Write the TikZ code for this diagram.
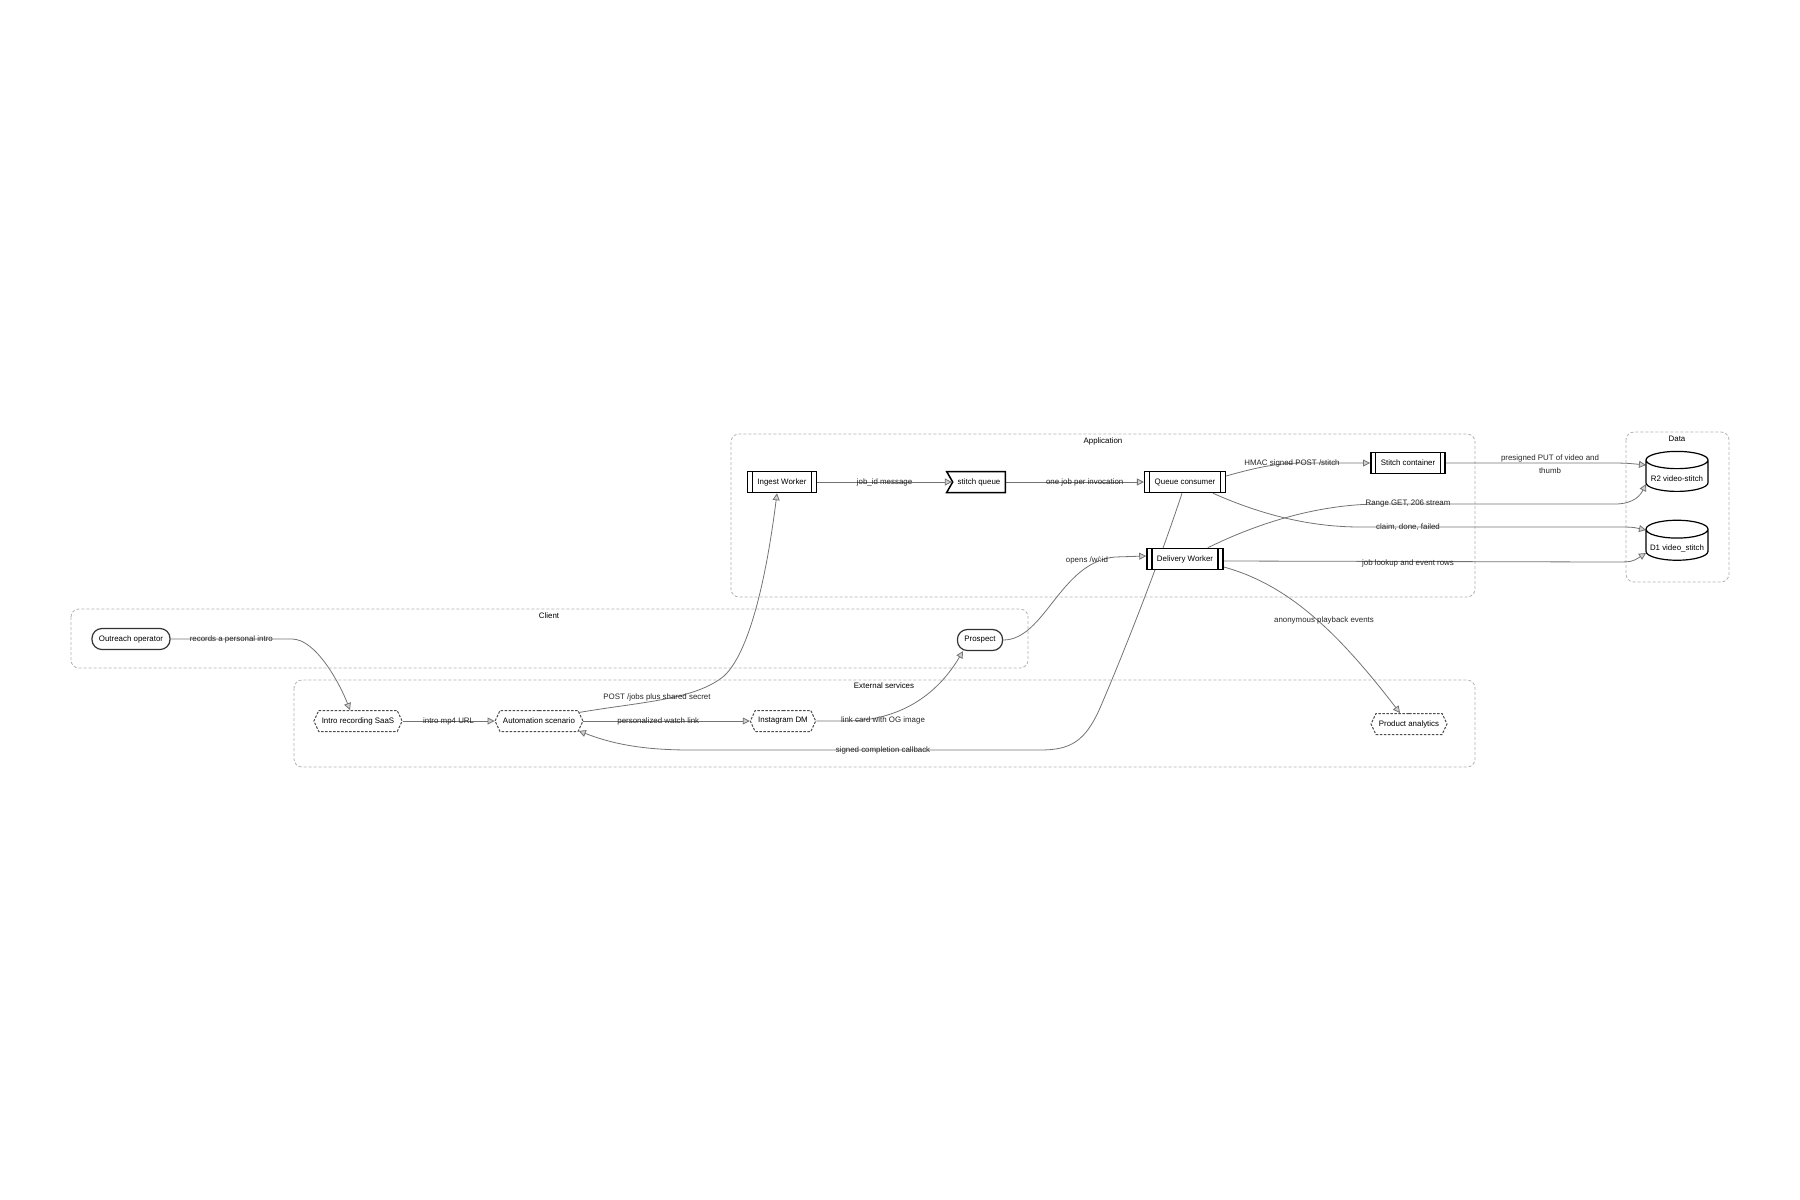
\documentclass[tikz,border=0pt]{standalone}
\usepackage{fontspec}
\setmainfont{Liberation Sans}
\usepackage{tikz}
\usetikzlibrary{arrows.meta,shapes.geometric,shapes.symbols,backgrounds}

\begin{document}
\begin{tikzpicture}[x=1pt,y=-1pt,
	every node/.style={font=\fontsize{7.9}{12.5}\selectfont, inner sep=0pt},
	group/.style={draw=black!30, dash pattern=on 3pt off 2pt, line width=0.8pt, rounded corners=8pt},
	proc/.style={draw=black, line width=1.5pt, fill=white, minimum height=21pt, inner xsep=10pt,
		path picture={
			\draw[line width=1.2pt] ([xshift=5pt]path picture bounding box.north west) -- ([xshift=5pt]path picture bounding box.south west);
			\draw[line width=1.2pt] ([xshift=-5pt]path picture bounding box.north east) -- ([xshift=-5pt]path picture bounding box.south east);}},
	queuebox/.style={signal, signal from=west, signal to=nowhere, signal pointer angle=120, draw=black, line width=1.5pt, fill=white, minimum height=21pt, inner xsep=5pt},
	actor/.style={draw=black!80, line width=1.2pt, fill=white, rounded corners=10pt, minimum height=21pt, inner xsep=7pt},
	extbox/.style={signal, signal to=west and east, signal pointer angle=130, draw=black!70, dash pattern=on 2.5pt off 1.5pt, line width=1pt, fill=white, minimum height=21pt, inner xsep=3pt},
	store/.style={cylinder, shape border rotate=90, aspect=0.33, draw=black, line width=1.2pt, fill=white, minimum width=62pt, minimum height=40pt, text height=11pt, text depth=0pt},
	conn/.style={draw=black!55, line width=0.8pt, -{Triangle[length=7pt,width=7pt,fill=black!18]}},
	lbl/.style={text=black!85}]
	\useasboundingbox (0,0) rectangle (1800,1200);

	% application
	\node[proc] (ingest) at (782,482) {Ingest Worker};
	\node[queuebox] (squeue) at (979,482) {stitch queue};
	\node[proc] (qcons) at (1185,482) {Queue consumer};
	\node[proc] (stitchc) at (1408,463) {Stitch container};
	\node[proc] (deliv) at (1185,559) {Delivery Worker};
	% data
	\node[store] (rtwo) at (1677,476) {R2 video-stitch};
	\node[store] (done) at (1677,545) {D1 video\_stitch};
	% client
	\node[actor] (operator) at (131,639) {Outreach operator};
	\node[actor] (prospect) at (980,640) {Prospect};
	% external services
	\node[extbox] (introsaas) at (358,721) {Intro recording SaaS};
	\node[extbox] (autom) at (539,721) {Automation scenario};
	\node[extbox] (instadm) at (783,721) {Instagram DM};
	\node[extbox] (analytics) at (1409,724) {Product analytics};

	\begin{scope}[on background layer]
		\draw[group] (731,434) rectangle (1475,597);
		\node (gapp) at (1103,441) {Application};
		\draw[group] (1626,432) rectangle (1729,582);
		\node (gdata) at (1677,439) {Data};
		\draw[group] (71,609) rectangle (1028,668);
		\node (gclient) at (549,616) {Client};
		\draw[group] (294,680) rectangle (1475,767);
		\node (gext) at (884,686) {External services};

		\draw[conn] (operator.east) -- node[lbl] (l1) {records a personal intro} (292,639) .. controls (316,639) and (340,684) .. ([xshift=-8pt]introsaas.north);
		\draw[conn] (introsaas.east) -- node[lbl] (l2) {intro mp4 URL} (autom.west);
		\draw[conn] (autom.12) .. controls (640,702) and (695,700) .. (724,676) .. controls (752,650) and (768,565) .. ([xshift=-5pt]ingest.south);
		\node[lbl] (l3) at (657,697) {POST /jobs plus shared secret};
		\draw[conn] (autom.east) -- node[lbl,pos=0.45] (l4) {personalized watch link} (instadm.west);
		\draw[conn] (instadm.east) -- (845,721) .. controls (905,721) and (940,690) .. ([xshift=-17pt]prospect.south);
		\node[lbl] (l5) at (883,720) {link card with OG image};
		\draw[conn] (prospect.east) .. controls (1045,640) and (1060,562) .. (1115,557) -- ([yshift=3pt]deliv.west);
		\node[lbl] (l6) at (1087,560) {opens /w/:id};
		\draw[conn] (ingest.east) -- node[lbl] (l7) {job\_id message} (squeue.west);
		\draw[conn] (squeue.east) -- node[lbl,pos=0.57] (l8) {one job per invocation} (qcons.west);
		\draw[conn] ([yshift=6pt]qcons.east) .. controls (1255,468) and (1275,463) .. (1305,463) -- (stitchc.west);
		\node[lbl] (l9) at (1292,463) {HMAC signed POST /stitch};
		\draw[conn] (stitchc.east) -- (1600,463) .. controls (1625,463) .. ([xshift=-31pt,yshift=11pt]rtwo.center);
		\node[lbl,align=center] (l10) at (1550,464) {presigned PUT of video and\\thumb};
		\draw[conn] ([xshift=-16pt]deliv.north east) .. controls (1260,522) and (1320,504) .. (1380,504) -- (1615,504) .. controls (1635,504) and (1641,494) .. ([xshift=-31pt,yshift=-8pt]rtwo.center);
		\node[lbl] (l11) at (1408,504) {Range GET, 206 stream};
		\draw[conn] ([xshift=-13pt]qcons.south east) .. controls (1255,512) and (1305,527) .. (1360,527) -- (1612,527) .. controls (1632,527) .. ([xshift=-31pt,yshift=15pt]done.center);
		\node[lbl] (l12) at (1408,527) {claim, done, failed};
		\draw[conn] ([yshift=-2pt]deliv.east) -- (1612,562) .. controls (1632,562) .. ([xshift=-31pt,yshift=-8pt]done.center);
		\node[lbl] (l13) at (1408,563) {job lookup and event rows};
		\draw[conn] ([yshift=-8pt]deliv.east) .. controls (1290,585) and (1340,635) .. ([xshift=-9pt]analytics.north);
		\node[lbl] (l14) at (1324,620) {anonymous playback events};
		\draw[conn] ([xshift=-3pt]qcons.south) .. controls (1160,560) and (1125,650) .. (1100,708) .. controls (1085,742) and (1070,750) .. (1040,750) -- (690,750) .. controls (640,750) and (610,743) .. (autom.-14);
		\node[lbl] (l15) at (883,750) {signed completion callback};
	\end{scope}
\end{tikzpicture}
\end{document}
